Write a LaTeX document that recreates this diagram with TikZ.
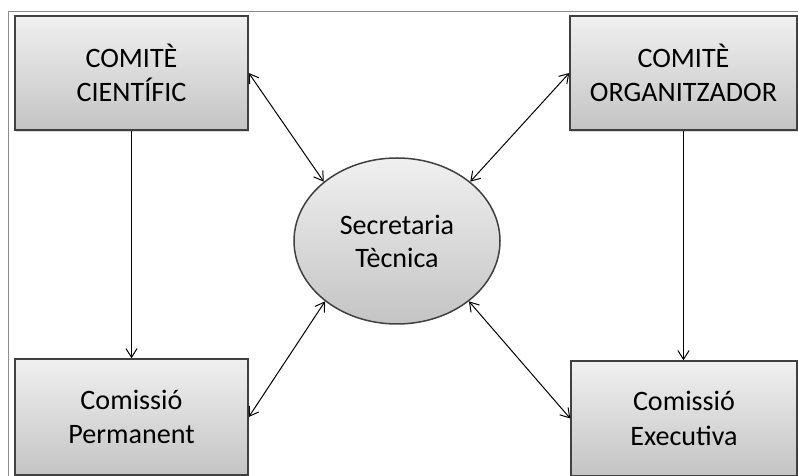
\documentclass[tikz,border=0pt]{standalone}
\usepackage{fontspec}
\setmainfont{Carlito}
\usetikzlibrary{arrows.meta, shapes.geometric, shadows}

\begin{document}
\begin{tikzpicture}[
  committee_box/.style={draw=border_color, line width=0.0375cm, top color=top_color, bottom color=bottom_color, inner sep=0pt, align=center, font=\fontsize{20}{24.5}\selectfont, drop shadow={shadow xshift=0.03cm, shadow yshift=-0.06cm, opacity=0.3}},
  secretary_ellipse/.style={ellipse, draw=border_color, line width=0.0375cm, top color=top_color, bottom color=bottom_color, inner sep=0pt, minimum width=5.15cm, minimum height=4.15cm, align=center, font=\fontsize{20}{23.5}\selectfont},
  link_arrow/.style={line width=0.025cm, {Straight Barb[length=0.22cm, width=0.28cm]}-{Straight Barb[length=0.22cm, width=0.28cm]}},
  down_arrow/.style={line width=0.025cm, -{Straight Barb[length=0.22cm, width=0.28cm]}}
]
\definecolor{border_color}{RGB}{64,64,64}
\definecolor{top_color}{RGB}{240,240,240}
\definecolor{bottom_color}{RGB}{196,196,196}
\definecolor{frame_color}{RGB}{140,140,140}

\useasboundingbox (0,0) rectangle (19.95,11.9);

% outer frame
\draw[frame_color, line width=0.03cm] (0.21,0) |- (19.95,11.61);

% committees
\node[committee_box, minimum width=5.825cm, minimum height=2.85cm] (cientific) at (3.2875,10.075) {COMITÈ\\CIENTÍFIC};
\node[committee_box, minimum width=5.675cm, minimum height=2.85cm] (organitzador) at (17.0875,10.075) {COMITÈ\\ORGANITZADOR};
\node[committee_box, minimum width=5.825cm, minimum height=2.9cm] (permanent) at (3.2875,1.475) {Comissió\\Permanent};
\node[committee_box, minimum width=5.65cm, minimum height=2.875cm] (executiva) at (17.1,1.4375) {Comissió\\Executiva};

% secretary
\node[secretary_ellipse] (secretaria) at (9.925,5.875) {Secretaria\\Tècnica};

\draw[link_arrow] (cientific.east) -- (secretaria.141);
\draw[link_arrow] (organitzador.west) -- (secretaria.39);
\draw[link_arrow] (permanent.east) -- (secretaria.220);
\draw[link_arrow] (executiva.west) -- (secretaria.320);

\draw[down_arrow] (cientific.south) -- (permanent.north);
\draw[down_arrow] (organitzador.south) -- (organitzador.south |- executiva.north);

\end{tikzpicture}
\end{document}
